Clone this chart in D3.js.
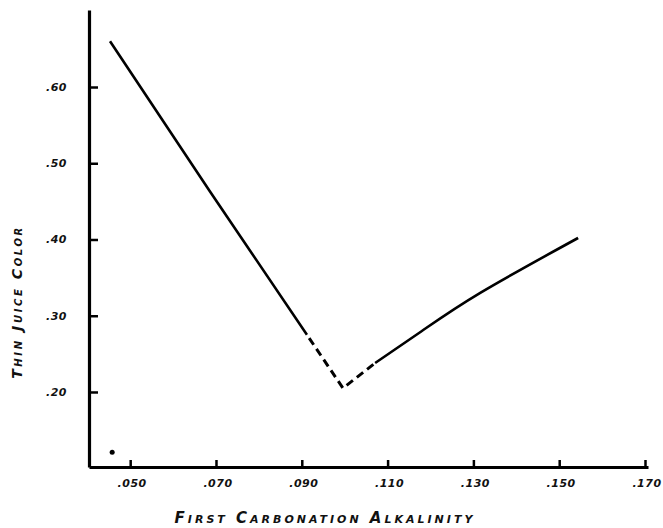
<!DOCTYPE html>
<html>
<head>
<meta charset="utf-8">
<script src="https://cdn.jsdelivr.net/npm/d3@7/dist/d3.min.js"></script>
<style>
  html, body { margin: 0; padding: 0; background: #fff; }
  svg { display: block; }
  .lbl { font-family: "DejaVu Sans", sans-serif; font-style: italic; font-weight: bold; fill: #111; }
</style>
</head>
<body>
<svg id="chart" width="663" height="528"></svg>
<script>
// Thin juice color versus first carbonation alkalinity
const xTicks = [0.050, 0.070, 0.090, 0.110, 0.130, 0.150, 0.170];
const xTickLabels = [".050", ".070", ".090", ".110", ".130", ".150", ".170"];
const yTicks = [0.20, 0.30, 0.40, 0.50, 0.60];
const yTickLabels = [".20", ".30", ".40", ".50", ".60"];

// falling branch (solid)
const fallX = [0.0453, 0.0686, 0.0912];
const fallY = [0.660, 0.463, 0.275];
// minimum region (dashed)
const valleyX = [0.0912, 0.0996, 0.1071];
const valleyY = [0.275, 0.205, 0.238];
// rising branch (solid)
const riseX = [0.1071, 0.1180, 0.1316, 0.1544];
const riseY = [0.238, 0.280, 0.330, 0.402];
// isolated observation
const pointX = [0.0458];
const pointY = [0.121];

const svg = d3.select("#chart");
const x = d3.scaleLinear().domain([0.0404, 0.1707]).range([89, 648]);
const y = d3.scaleLinear().domain([0.1016, 0.701]).range([467, 10]);

const zip = (xs, ys) => xs.map((v, i) => [v, ys[i]]);
const straight = d3.line().x(d => x(d[0])).y(d => y(d[1]));
const smooth = d3.line().x(d => x(d[0])).y(d => y(d[1])).curve(d3.curveNatural);

// axes with inward ticks
const xAxis = svg.append("g").attr("transform", `translate(0,${y(0.1016)})`)
  .call(d3.axisBottom(x).tickValues(xTicks).tickSize(-7).tickSizeOuter(0).tickFormat(""));
const yAxis = svg.append("g").attr("transform", `translate(${x(0.0404)},0)`)
  .call(d3.axisLeft(y).tickValues(yTicks).tickSize(-9).tickSizeOuter(0).tickFormat(""));
[xAxis, yAxis].forEach(g => {
  g.select(".domain").attr("stroke", "#000").attr("stroke-width", 3.2);
  g.selectAll(".tick line").attr("stroke", "#000").attr("stroke-width", 2.5);
});

svg.append("g").selectAll("text").data(xTicks).join("text")
  .attr("class", "lbl").attr("x", d => x(d) + 2).attr("y", 487)
  .attr("text-anchor", "middle").attr("font-size", 11).attr("letter-spacing", 0.5)
  .text((d, i) => xTickLabels[i]);

svg.append("g").selectAll("text").data(yTicks).join("text")
  .attr("class", "lbl").attr("x", 67).attr("y", d => y(d) + 4)
  .attr("text-anchor", "end").attr("font-size", 11).attr("letter-spacing", 0.5)
  .text((d, i) => yTickLabels[i]);

// curve segments
svg.append("path").attr("d", straight(zip(fallX, fallY)))
  .attr("fill", "none").attr("stroke", "#000").attr("stroke-width", 2.6)
  .attr("stroke-linejoin", "round");
svg.append("path").attr("d", straight(zip(valleyX, valleyY)))
  .attr("fill", "none").attr("stroke", "#000").attr("stroke-width", 3)
  .attr("stroke-dasharray", "8,5").attr("stroke-dashoffset", -4);
svg.append("path").attr("d", smooth(zip(riseX, riseY)))
  .attr("fill", "none").attr("stroke", "#000").attr("stroke-width", 2.6);

svg.append("g").selectAll("circle").data(zip(pointX, pointY)).join("circle")
  .attr("cx", d => x(d[0])).attr("cy", d => y(d[1])).attr("r", 2.5).attr("fill", "#000");

// axis titles
svg.append("text").attr("class", "lbl")
  .attr("x", 325).attr("y", 523).attr("text-anchor", "middle")
  .attr("font-size", 15).attr("font-variant", "small-caps").attr("letter-spacing", 3)
  .text("First Carbonation Alkalinity");

svg.append("text").attr("class", "lbl")
  .attr("transform", "translate(22,302) rotate(-90)").attr("text-anchor", "middle")
  .attr("font-size", 14).attr("font-variant", "small-caps").attr("letter-spacing", 2.6)
  .text("Thin Juice Color");
</script>
</body>
</html>
